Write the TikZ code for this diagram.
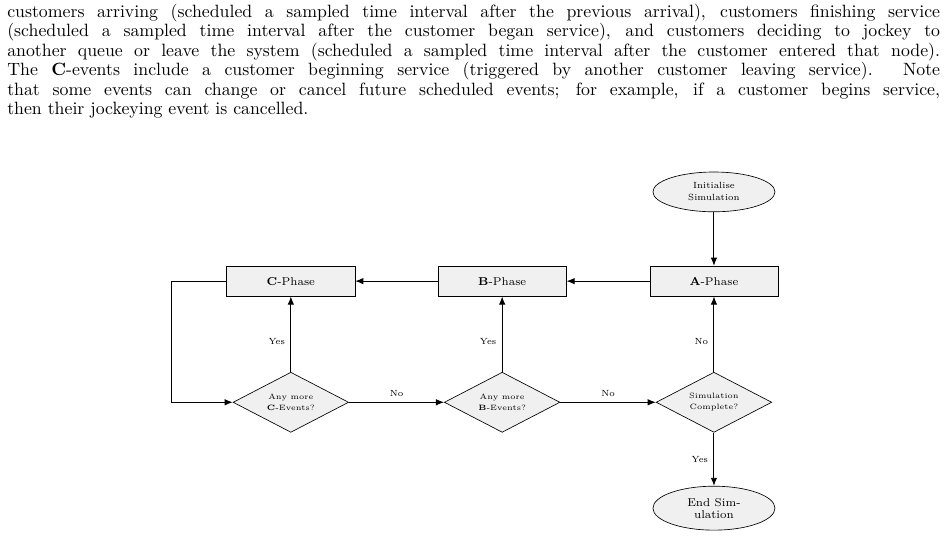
\documentclass[tikz,border=0pt]{standalone}
\usepackage{tikz}
\usetikzlibrary{positioning, arrows.meta, shapes, calc}

\begin{document}
\begin{tikzpicture}[
    auto,
    block/.style={rectangle, draw, fill=black!6, minimum width=2.77cm, minimum height=0.65cm, font=\fontsize{7}{8}\selectfont},
    decision/.style={diamond, draw, fill=black!6, aspect=1.9, minimum width=2.5cm, minimum height=1.3cm, inner sep=0pt, align=center, font=\fontsize{4.75}{7}\selectfont},
    cloud/.style={draw, ellipse, fill=black!6, minimum width=2.64cm, minimum height=0.86cm, align=center, inner sep=1pt},
    line/.style={draw, semithick, -{Latex[length=5pt, width=4pt]}},
    lbl/.style={font=\fontsize{5.5}{6}\selectfont}
    ]
    \useasboundingbox (0,0) rectangle (20.48,-11.64);

    \node[anchor=north west, inner sep=0pt, text width=574pt, align=justify, font=\fontsize{10.95}{12}\selectfont] (para) at (0.15,-0.08) {customers arriving (scheduled a sampled time interval after the previous arrival), customers finishing service\linebreak
    (scheduled a sampled time interval after the customer began service), and customers deciding to jockey to\linebreak
    another queue or leave the system (scheduled a sampled time interval after the customer entered that node).\linebreak
    The \textbf{C}-events include a customer beginning service (triggered by another customer leaving service). Note\linebreak
    that some events can change or cancel future scheduled events; for example, if a customer begins service,\linebreak
    then their jockeying event is cancelled.};

    \node[cloud, font=\fontsize{5.5}{7.5}\selectfont] (init) at (15.44,-4.15) {Initialise\\Simulation};

    \node[block] (aphase) at (15.44,-6.08) {\textbf{A}-Phase};
    \node[block] (bphase) at (10.86,-6.08) {\textbf{B}-Phase};
    \node[block] (cphase) at (6.29,-6.08) {\textbf{C}-Phase};

    \node[decision] (cmore) at (6.29,-8.70) {Any more\\\textbf{C}-Events?};
    \node[decision] (bmore) at (10.86,-8.70) {Any more\\\textbf{B}-Events?};
    \node[decision] (simdone) at (15.44,-8.70) {Simulation\\Complete?};

    \node[cloud, minimum height=0.95cm, font=\fontsize{7}{7.5}\selectfont] (endsim) at (15.44,-10.99) {End Sim-\\ulation};

    \coordinate (loop) at (3.70,-6.08);

    \draw[line] (init) -- (aphase);
    \draw[line] (aphase) -- (bphase);
    \draw[line] (bphase) -- (cphase);
    \draw[line] (cphase.west) -- (loop) |- (cmore.west);

    \draw[line] (cmore) -- node[lbl, pos=0.4] {Yes} (cphase);
    \draw[line] (bmore) -- node[lbl, pos=0.4] {Yes} (bphase);
    \draw[line] (simdone) -- node[lbl, pos=0.4] {No} (aphase);

    \draw[line] (cmore) -- node[lbl] {No} (bmore);
    \draw[line] (bmore) -- node[lbl] {No} (simdone);
    \draw[line] (simdone) -- node[lbl, swap] {Yes} (endsim);

  \end{tikzpicture}
\end{document}
